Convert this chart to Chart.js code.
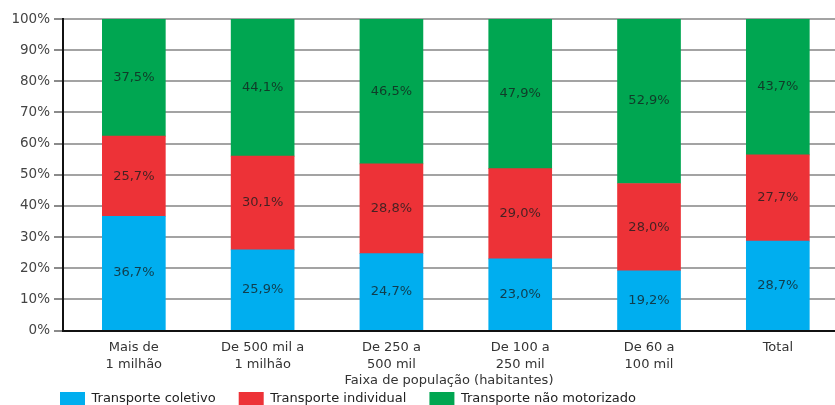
<!DOCTYPE html>
<html lang="pt-BR">
<head>
<meta charset="utf-8">
<script src="https://cdn.jsdelivr.net/npm/chart.js@4.4.1/dist/chart.umd.min.js"></script>
<style>
  html, body { margin: 0; padding: 0; background: #fff; overflow: hidden; }
  #wrap { width: 835px; height: 405px; overflow: hidden; }
  canvas { display: block; }
</style>
</head>
<body>
<div id="wrap"><canvas id="c" width="835" height="435"></canvas></div>
<script>
// Faixas de população (eixo horizontal)
const categorias = [
  ['Mais de', '1 milhão'],
  ['De 500 mil a', '1 milhão'],
  ['De 250 a', '500 mil'],
  ['De 100 a', '250 mil'],
  ['De 60 a', '100 mil'],
  'Total'
];

// Participação de cada modo nas viagens (%)
const transporteColetivo      = [36.7, 25.9, 24.7, 23.0, 19.2, 28.7];
const transporteIndividual    = [25.7, 30.1, 28.8, 29.0, 28.0, 27.7];
const transporteNaoMotorizado = [37.5, 44.1, 46.5, 47.9, 52.9, 43.7];

const yTicks = [0, 10, 20, 30, 40, 50, 60, 70, 80, 90, 100];

const FONT = 'DejaVu Sans, Verdana, sans-serif';

const toPoints = arr => arr.map((v, i) => ({ x: i, y: v }));

// Valor escrito no meio de cada segmento da barra
const segmentLabels = {
  id: 'segmentLabels',
  afterDatasetsDraw(chart) {
    const ctx = chart.ctx;
    ctx.save();
    ctx.font = '13px ' + FONT;
    ctx.textAlign = 'center';
    ctx.textBaseline = 'middle';
    ctx.fillStyle = 'rgba(20,30,30,0.78)';
    chart.data.datasets.forEach((ds, di) => {
      const meta = chart.getDatasetMeta(di);
      meta.data.forEach((el, i) => {
        const v = ds.data[i].y;
        const yMid = (el.y + el.base) / 2;
        ctx.fillText(v.toFixed(1).replace('.', ',') + '%', el.x, yMid);
      });
    });
    ctx.restore();
  }
};

// Legenda alinhada sob o eixo, logo abaixo do título do eixo X
const legendPlacement = {
  id: 'legendPlacement',
  afterLayout(chart) {
    const lg = chart.legend;
    if (!lg) return;
    const dy = 369 - lg.top;
    const dx = 37 - lg.left;
    lg.top += dy; lg.bottom += dy;
    lg.left += dx; lg.right += dx;
  }
};

new Chart(document.getElementById('c'), {
  type: 'bar',
  data: {
    datasets: [
      { label: 'Transporte coletivo', data: toPoints(transporteColetivo), backgroundColor: '#00aeef' },
      { label: 'Transporte individual', data: toPoints(transporteIndividual), backgroundColor: '#ed3237' },
      { label: 'Transporte não motorizado', data: toPoints(transporteNaoMotorizado), backgroundColor: '#00a651' }
    ]
  },
  options: {
    responsive: false,
    animation: false,
    devicePixelRatio: 1,
    layout: { padding: { top: 19, left: 0, right: 0, bottom: 0 } },
    datasets: { bar: { barThickness: 63 } },
    plugins: {
      title: { display: false },
      tooltip: { enabled: false },
      legend: {
        position: 'bottom',
        align: 'start',
        labels: {
          boxWidth: 25,
          boxHeight: 14,
          padding: 23,
          color: '#222',
          font: { family: FONT, size: 13 }
        }
      }
    },
    scales: {
      x: {
        type: 'linear',
        stacked: true,
        offset: false,
        min: -0.55,
        max: 5.444,
        grid: { display: true, drawOnChartArea: false, drawTicks: false },
        border: { display: true, color: '#111', width: 2 },
        ticks: {
          stepSize: 1,
          includeBounds: false,
          autoSkip: false,
          maxRotation: 0,
          padding: 9,
          color: '#333',
          font: { family: FONT, size: 13, lineHeight: 1.3 },
          callback: v => (Number.isInteger(v) && v >= 0 && v < categorias.length) ? categorias[v] : ''
        },
        title: {
          display: true,
          text: 'Faixa de população (habitantes)',
          color: '#333',
          padding: { top: -10, bottom: 0 },
          font: { family: FONT, size: 13, lineHeight: 1.2 }
        }
      },
      y: {
        stacked: true,
        min: 0,
        max: 100,
        afterFit: s => { s.width = 63; },
        afterBuildTicks: s => { s.ticks = yTicks.map(v => ({ value: v })); },
        grid: { color: '#a3a3a3', lineWidth: 2, tickLength: 9, tickColor: '#8a8a8a' },
        border: { display: true, color: '#111', width: 2 },
        ticks: {
          padding: 4,
          color: '#444',
          font: { family: FONT, size: 13.5 },
          callback: v => v + '%'
        }
      }
    }
  },
  plugins: [segmentLabels, legendPlacement]
});
</script>
</body>
</html>
